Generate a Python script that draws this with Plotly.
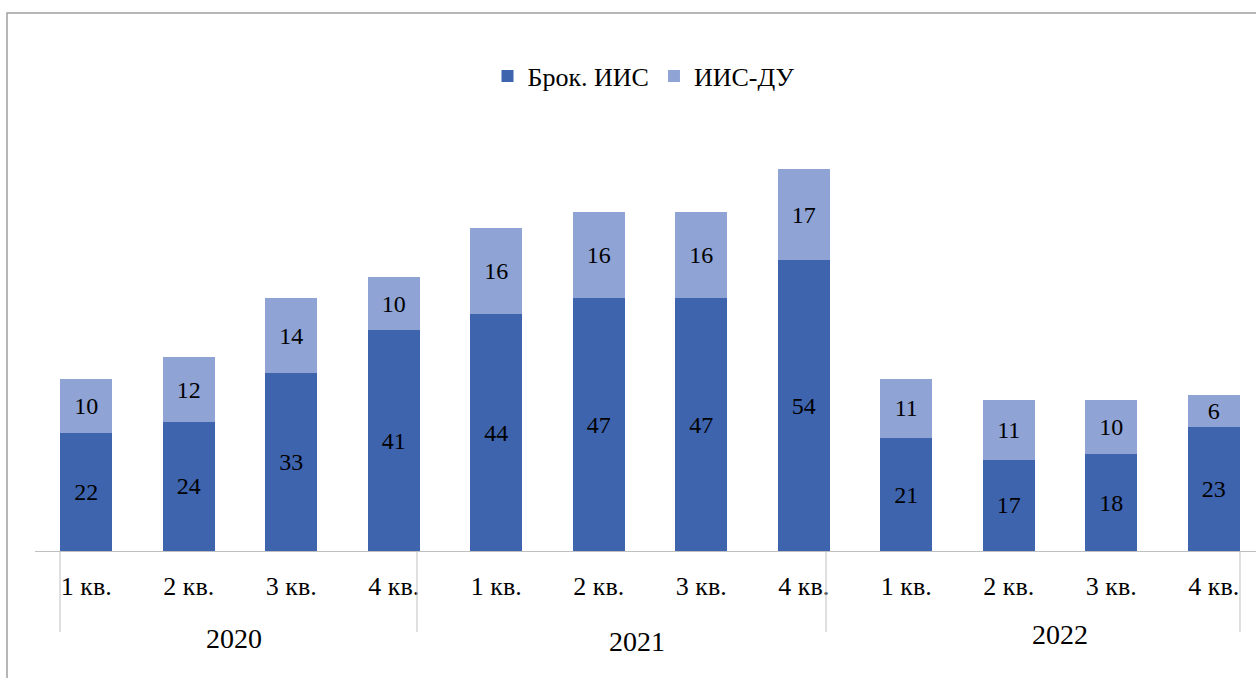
import plotly.graph_objects as go

# Quarterly data, 2020–2022
quarters = ["1 кв.", "2 кв.", "3 кв.", "4 кв."] * 3
years = ["2020", "2021", "2022"]
broker_iis = [22, 24, 33, 41, 44, 47, 47, 54, 21, 17, 18, 23]
iis_du = [10, 12, 14, 10, 16, 16, 16, 17, 11, 11, 10, 6]

DARK = "#3E64AD"
LIGHT = "#8FA4D5"
FONT = "Liberation Serif"

W, H = 1256, 678
ML, MR, MT, MB = 35, 0, 121, 127
plot_h = H - MT - MB
plot_w = W - ML - MR


def py(pix):
    """Pixel row -> paper y."""
    return (H - MB - pix) / plot_h


def px(pix):
    """Pixel column -> paper x."""
    return (pix - ML) / plot_w


idx = list(range(len(quarters)))

fig = go.Figure()
fig.add_trace(go.Bar(
    x=idx, y=broker_iis, name="Брок. ИИС", marker_color=DARK,
    marker_line_width=0, text=broker_iis, textposition="inside",
    insidetextanchor="middle", textangle=0,
    textfont=dict(family=FONT, size=24, color="black"),
))
fig.add_trace(go.Bar(
    x=idx, y=iis_du, name="ИИС-ДУ", marker_color=LIGHT,
    marker_line_width=0, text=iis_du, textposition="inside",
    insidetextanchor="middle", textangle=0,
    textfont=dict(family=FONT, size=24, color="black"),
))

# year labels under each group of four quarters
year_pos = [(1.5 - 0.06, 638), (5.5 - 0.13, 641), (9.5, 634)]
for yr, (xc, ypix) in zip(years, year_pos):
    fig.add_annotation(x=xc, y=py(ypix), xref="x", yref="paper", text=yr,
                       showarrow=False, yanchor="middle",
                       font=dict(family=FONT, size=28, color="black"))

# group separators
for xs in [-0.256, 3.227, 7.217, 11.256]:
    fig.add_shape(type="line", xref="x", yref="paper", x0=xs, x1=xs,
                  y0=0, y1=py(632), line=dict(color="#BFBFBF", width=1))

# chart frame
fig.add_shape(type="rect", xref="paper", yref="paper",
              x0=px(7), x1=px(1300), y0=py(720), y1=py(13),
              line=dict(color="#A0A0A0", width=1.5), layer="below")

fig.update_layout(
    width=W, height=H,
    margin=dict(l=ML, r=MR, t=MT, b=MB),
    paper_bgcolor="white", plot_bgcolor="white",
    barmode="stack", bargap=0.49,
    uniformtext=dict(minsize=24, mode="show"),
    font=dict(family=FONT, color="black"),
    legend=dict(orientation="h", x=px(644), xanchor="center",
                y=py(76), yanchor="middle",
                font=dict(family=FONT, size=26, color="black"),
                itemwidth=30, traceorder="normal"),
    showlegend=True,
)
fig.update_xaxes(
    type="linear", range=[-0.5, -0.5 + plot_w / 102.5],
    tickmode="array", tickvals=idx, ticktext=quarters,
    showgrid=False, zeroline=False, showline=True,
    linecolor="#BFBFBF", linewidth=1, ticks="",
    ticklabelstandoff=12,
    tickfont=dict(family=FONT, size=26, color="black"),
)
fig.update_yaxes(range=[0, plot_h / 5.38], visible=False, showgrid=False)

fig.write_html("out.html")
